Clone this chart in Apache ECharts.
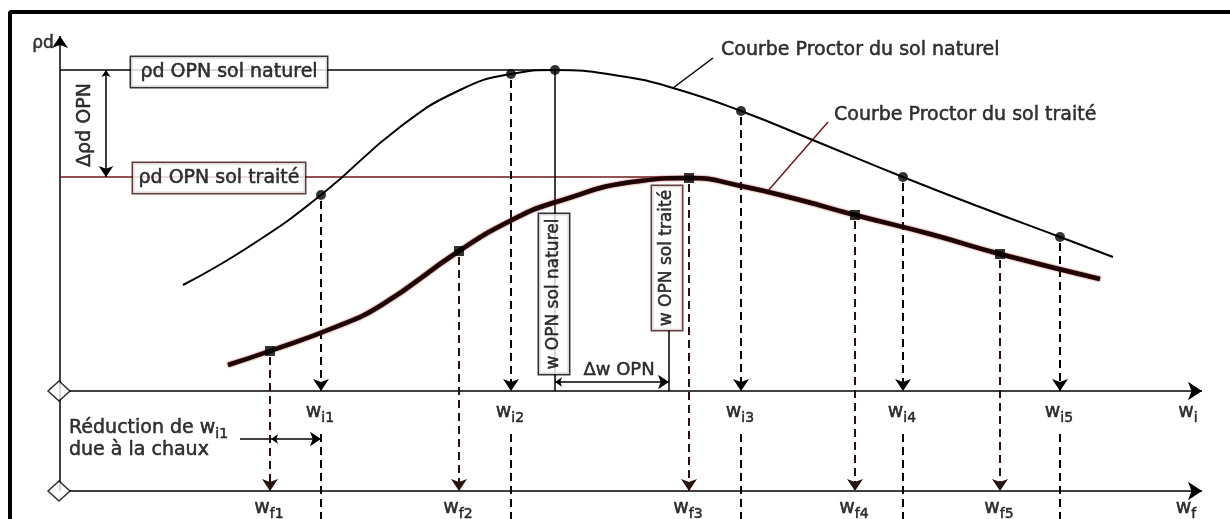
<!DOCTYPE html>
<html><head><meta charset="utf-8">
<script src="https://cdn.jsdelivr.net/npm/echarts@6.0.0/dist/echarts.min.js"></script>
<style>html,body{margin:0;padding:0;background:#fff}#c{width:1230px;height:519px}</style>
</head><body><div id="c"></div>
<script>
// ---- schematic data (diagram units: x = water content, y = dry density, downwards) ----
const naturalCurveX = [183, 250, 321, 400, 460, 511, 555, 620, 673, 741, 820, 903, 980, 1060, 1113];
const naturalCurveY = [285, 246, 195, 127, 90, 74, 70, 76, 88, 111, 143, 177, 207, 237, 257];
const treatedCurveX = [228, 270, 333, 380, 459, 510, 556, 640, 690, 741, 800, 855, 930, 1000, 1100];
const treatedCurveY = [365, 351, 328, 306, 251, 221, 202, 181, 178, 186, 200, 215, 234, 254, 279];
const naturalMeasuresX = [321, 511, 741, 903, 1060];
const naturalMeasuresY = [195, 74, 111, 177, 237];
const treatedMeasuresX = [270, 459, 689, 855, 1000];
const treatedMeasuresY = [351, 251, 178, 215, 254];
const naturalOptimum = [555, 70];
const treatedOptimum = [669, 177];
const wiSubscripts = ['i1', 'i2', 'i3', 'i4', 'i5'];
const wfSubscripts = ['f1', 'f2', 'f3', 'f4', 'f5'];
const wiAxisLevel = 391;
const wfAxisLevel = 491;
const rhoAxisX = 60;

const FONT = 'DejaVu Sans';
const RED = '#6e1a1a';
const TXT = { color: '#000', fontFamily: FONT, textBorderColor: '#000', textBorderWidth: 0.5 };

function lines(name, segs, style, symbol, symbolSize, z) {
  return {
    type: 'lines', name, coordinateSystem: 'cartesian2d', z: z || 2,
    symbol: symbol || ['none', 'none'], symbolSize: symbolSize || 10,
    lineStyle: Object.assign({ color: '#000', width: 1.5, opacity: 1, curveness: 0 }, style),
    data: segs.map(s => ({ coords: s })), silent: true, animation: false
  };
}
function textSeries(items, z) {
  return {
    type: 'scatter', symbolSize: 0, z: z || 8, silent: true, animation: false,
    data: items.map(it => ({ value: it.at, label: Object.assign({ show: true, overflow: 'none' }, TXT, it.label) }))
  };
}
const sub = { w: Object.assign({ fontSize: 19 }, TXT), s: Object.assign({ fontSize: 14, padding: [13, 0, 0, 0] }, TXT) };

const series = [];
// frame
series.push({ type: 'line', data: [[10, 560], [10, 12], [1260, 12]], symbol: 'none', lineStyle: { color: '#000', width: 4 }, z: 1, silent: true, animation: false });
// rho axis with arrow
series.push(lines('rhoAxis', [[[rhoAxisX, wfAxisLevel], [rhoAxisX, 36]]], { width: 1.5 }, ['none', 'arrow'], [7, 12]));
// w axes
series.push(lines('wAxes', [[[69, wiAxisLevel], [1202, wiAxisLevel]], [[69, wfAxisLevel], [1202, wfAxisLevel]]], { width: 1.5 }, ['none', 'arrow'], [7, 14]));
// diamonds
series.push({ type: 'scatter', symbol: 'diamond', symbolSize: [22, 20], z: 6, silent: true, animation: false,
  itemStyle: { color: '#fff', borderColor: '#000', borderWidth: 1.5 },
  data: [[rhoAxisX - 1, wiAxisLevel], [rhoAxisX - 1, wfAxisLevel]] });
// optimum reference lines
series.push(lines('rhoNat', [[[rhoAxisX, naturalOptimum[1]], naturalOptimum]], { width: 1.5 }));
series.push(lines('rhoTr', [[[rhoAxisX, treatedOptimum[1]], [690, treatedOptimum[1]]]], { width: 1.5, color: RED }));
series.push(lines('wNat', [[naturalOptimum, [naturalOptimum[0], wiAxisLevel]], [[treatedOptimum[0], 330], [treatedOptimum[0], wiAxisLevel]]], { width: 1.5 }));
// delta arrows
series.push(lines('dRho', [[[106, naturalOptimum[1]], [106, treatedOptimum[1]]]], { width: 1.5 }, ['arrow', 'arrow'], [7, 11]));
series.push(lines('dW', [[[naturalOptimum[0], 382], [treatedOptimum[0], 382]]], { width: 1.5 }, ['arrow', 'arrow'], [7, 11]));
series.push(lines('red1', [[[240, 439], [271, 439]]], { width: 1.5 }));
series.push(lines('red2', [[[271, 439], [naturalMeasuresX[0], 439]]], { width: 1.5 }, ['arrow', 'arrow'], [7, 11]));
// leader lines
series.push(lines('lead1', [[[713, 58], [673, 88]]], { width: 1.5 }));
series.push(lines('lead2', [[[828, 122], [767, 192]]], { width: 1.5, color: RED }));
// dashed drops
series.push(lines('dropNat', naturalMeasuresX.map((x, i) => [[x, naturalMeasuresY[i] + 6], [x, wiAxisLevel]]), { width: 2, type: [8, 5] }, ['none', 'arrow'], [8, 12], 3));
series.push(lines('dropNat2', naturalMeasuresX.map(x => [[x, 434], [x, 530]]), { width: 2, type: [8, 5] }, null, null, 3));
series.push(lines('dropTr', treatedMeasuresX.map((x, i) => [[x, treatedMeasuresY[i] + 6], [x, wfAxisLevel]]), { width: 2, type: [8, 5], color: '#2a1010' }, ['none', 'arrow'], [8, 12], 3));
// curves
series.push({ type: 'line', data: naturalCurveX.map((x, i) => [x, naturalCurveY[i]]), smooth: 0.5, symbol: 'none', z: 4,
  lineStyle: { color: '#000', width: 2 }, silent: true, animation: false });
series.push({ type: 'line', data: treatedCurveX.map((x, i) => [x, treatedCurveY[i]]), smooth: 0.5, symbol: 'none', z: 4,
  lineStyle: { color: '#1e0505', width: 4.5, shadowColor: '#9a2020', shadowBlur: 2 }, silent: true, animation: false });
// measured points
series.push({ type: 'scatter', symbol: 'circle', symbolSize: 10, z: 5, itemStyle: { color: '#000' }, silent: true, animation: false,
  data: naturalMeasuresX.map((x, i) => [x, naturalMeasuresY[i]]).concat([naturalOptimum]) });
series.push({ type: 'scatter', symbol: 'rect', symbolSize: 10, z: 5, itemStyle: { color: '#000' }, silent: true, animation: false,
  data: treatedMeasuresX.map((x, i) => [x, treatedMeasuresY[i]]) });
// boxes (labels with framed background)
function box(at, w, h, text, rotate, border, fs) {
  return { value: at, label: { show: true, position: 'inside', rotate: rotate || 0, formatter: text,
    color: '#000', fontFamily: FONT, fontSize: fs || 19, overflow: 'none', width: w, height: h, lineHeight: h,
    align: 'center', verticalAlign: 'middle',
    rich: { t: { color: '#000', fontFamily: FONT, fontSize: fs || 19, textBorderColor: '#000', textBorderWidth: 0.5 } },
    backgroundColor: '#fff', borderColor: border || '#000', borderWidth: 1.5, padding: 0 } };
}
series.push({ type: 'scatter', symbolSize: 0, z: 7, silent: true, animation: false, data: [
  box([229, 72], 196, 30, '{t|ρd OPN sol naturel}'),
  box([219, 178], 172, 30, '{t|ρd OPN sol traité}', 0, '#3a0c0c'),
  box([554, 294], 160, 30, '{t|w OPN sol naturel}', 90, null, 17),
  box([667, 258], 144, 30, '{t|w OPN sol traité}', 90, '#3a0c0c', 17)
] });
// texts
const texts = [
  { at: [43, 44], label: { position: 'inside', formatter: 'ρd', fontSize: 17 } },
  { at: [85, 125], label: { position: 'inside', formatter: 'Δρd OPN', fontSize: 19, rotate: 90 } },
  { at: [721, 50], label: { position: 'right', distance: 0, formatter: 'Courbe Proctor du sol naturel', fontSize: 19 } },
  { at: [834, 115], label: { position: 'right', distance: 0, formatter: 'Courbe Proctor du sol traité', fontSize: 19 } },
  { at: [619, 370], label: { position: 'inside', formatter: 'Δw OPN', fontSize: 18 } },
  { at: [69, 439], label: { position: 'right', distance: 0, align: 'left', lineHeight: 22,
      formatter: '{t|Réduction de w}{s|i1}\n{t|due à la chaux}',
      rich: { t: Object.assign({ fontSize: 19, lineHeight: 22 }, TXT), s: Object.assign({ fontSize: 14, padding: [12, 0, 0, 0] }, TXT) } } },
  { at: [1188, 412], label: { position: 'inside', formatter: '{w|w}{s|i}', rich: sub } },
  { at: [1186, 508], label: { position: 'inside', formatter: '{w|w}{s|f}', rich: sub } }
].concat(naturalMeasuresX.map((x, i) => ({ at: [x - 1, 412], label: { position: 'inside', formatter: '{w|w}{s|' + wiSubscripts[i] + '}', rich: sub } })))
 .concat(treatedMeasuresX.map((x, i) => ({ at: [x - 1, 508], label: { position: 'inside', formatter: '{w|w}{s|' + wfSubscripts[i] + '}', rich: sub } })));
series.push(textSeries(texts, 9));

const chart = echarts.init(document.getElementById('c'), null, { renderer: 'canvas' });
chart.setOption({
  animation: false,
  backgroundColor: '#fff',
  grid: { left: 0, right: 0, top: 0, bottom: 0 },
  xAxis: { type: 'value', min: 0, max: 1230, show: false },
  yAxis: { type: 'value', min: 0, max: 519, inverse: true, show: false },
  series
});
</script></body></html>
